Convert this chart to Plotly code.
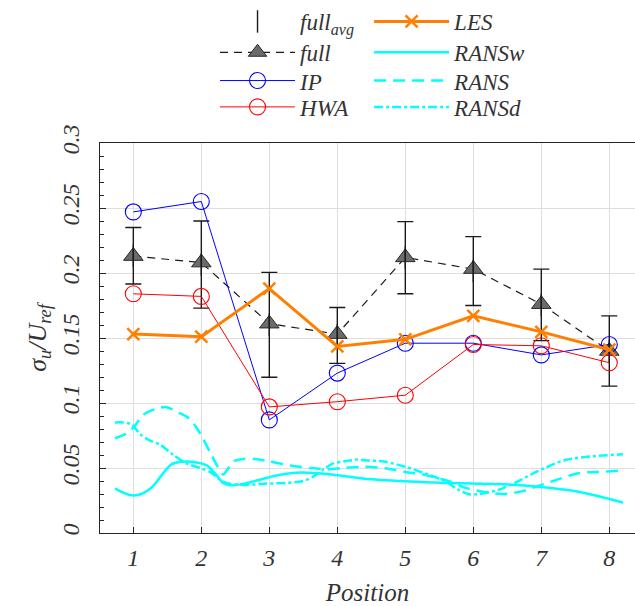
import plotly.graph_objects as go

positions = [1, 2, 3, 4, 5, 6, 7, 8]
ip = [0.247, 0.255, 0.087, 0.123, 0.146, 0.146, 0.137, 0.145]
hwa = [0.184, 0.182, 0.097, 0.101, 0.106, 0.145, 0.144, 0.131]
full = [0.213, 0.208, 0.161, 0.153, 0.212, 0.203, 0.176, 0.140]
full_avg_hi = [0.235, 0.240, 0.2005, 0.1735, 0.2395, 0.228, 0.203, 0.167]
full_avg_lo = [0.1915, 0.173, 0.1198, 0.1305, 0.184, 0.175, 0.148, 0.113]
les = [0.153, 0.151, 0.188, 0.1435, 0.149, 0.167, 0.1547, 0.141]

ransw_x = [0.73, 0.85, 0.975, 1.12, 1.29, 1.44, 1.56, 1.71, 1.93, 2.08, 2.20, 2.32, 2.42, 2.62,
           2.86, 3.16, 3.45, 3.70, 4.04, 4.40, 5.0, 5.63, 6.0, 6.51, 7.0, 7.54, 7.83, 8.2]
ransw_y = [0.0343, 0.031, 0.029, 0.030, 0.036, 0.046, 0.0528, 0.0548, 0.0543, 0.052, 0.046, 0.0385,
           0.0368, 0.0378, 0.041, 0.0448, 0.0465, 0.046, 0.0443, 0.0418, 0.0398, 0.0385, 0.038,
           0.0373, 0.0353, 0.0318, 0.0285, 0.0235]

rans_x = [0.73, 0.88, 1.0, 1.15, 1.32, 1.49, 1.69, 1.81, 1.93, 2.03, 2.13, 2.23, 2.32, 2.40, 2.47,
          2.62, 2.79, 3.0, 3.3, 3.6, 3.85, 4.1, 4.4, 4.7, 5.0, 5.28, 5.63, 5.87, 6.12, 6.41, 6.71,
          7.0, 7.29, 7.54, 7.83, 8.2]
rans_y = [0.0728, 0.076, 0.081, 0.091, 0.0953, 0.0968, 0.092, 0.0885, 0.081, 0.072, 0.062, 0.052,
          0.045, 0.050, 0.055, 0.057, 0.057, 0.055, 0.052, 0.050, 0.049, 0.050, 0.051, 0.0498,
          0.047, 0.0448, 0.040, 0.035, 0.032, 0.030, 0.032, 0.037, 0.042, 0.046, 0.047, 0.048]

ransd_x = [0.73, 0.853, 0.975, 1.10, 1.245, 1.39, 1.59, 1.78, 1.98, 2.13, 2.25, 2.37, 2.62, 2.96,
           3.25, 3.5, 3.65, 3.8, 3.94, 4.1, 4.3, 4.4, 4.7, 5.0, 5.28, 5.58, 5.77, 5.92, 6.07,
           6.36, 6.61, 6.85, 7.05, 7.34, 7.74, 8.2]
ransd_y = [0.085, 0.085, 0.0835, 0.076, 0.071, 0.068, 0.060, 0.0535, 0.050, 0.047, 0.042, 0.0385,
           0.037, 0.038, 0.0385, 0.040, 0.0435, 0.049, 0.0535, 0.055, 0.0565, 0.056, 0.0548,
           0.051, 0.046, 0.040, 0.0335, 0.030, 0.0298, 0.033, 0.0385, 0.045, 0.050, 0.056,
           0.059, 0.0605]

x_ticks = [1, 2, 3, 4, 5, 6, 7, 8]
y_ticks = [0, 0.05, 0.1, 0.15, 0.2, 0.25, 0.3]
y_ticklabels = ["0", "0.05", "0.1", "0.15", "0.2", "0.25", "0.3"]

FONT = "Liberation Serif"
TXT = "#333333"
CYAN = "#00FFFF"

avg_mid = [(h + l) / 2 for h, l in zip(full_avg_hi, full_avg_lo)]
avg_err = [(h - l) / 2 for h, l in zip(full_avg_hi, full_avg_lo)]

fig = go.Figure()

fig.add_trace(go.Scatter(x=ransw_x, y=ransw_y, name="RANSw", mode="lines", legend="legend4",
                         line=dict(color=CYAN, width=2.5, shape="spline", smoothing=0.8)))
fig.add_trace(go.Scatter(x=rans_x, y=rans_y, name="RANS", mode="lines", legend="legend6",
                         line=dict(color=CYAN, width=2.5, dash="12px,7px", shape="spline", smoothing=0.8)))
fig.add_trace(go.Scatter(x=ransd_x, y=ransd_y, name="RANSd", mode="lines", legend="legend8",
                         line=dict(color=CYAN, width=2.5, dash="9px,3px,3px,3px", shape="spline", smoothing=0.8)))
fig.add_trace(go.Scatter(x=positions, y=full, name="full", mode="lines+markers", legend="legend3",
                         line=dict(color="#1a1a1a", width=1.2, dash="8px,6px"),
                         marker=dict(symbol="triangle-up", size=17, color="#6b6b6b",
                                     line=dict(color="#2a2a2a", width=1))))
fig.add_trace(go.Scatter(x=positions, y=avg_mid, name="full<sub>avg</sub>", mode="markers", legend="legend",
                         marker=dict(symbol="line-ns-open", size=16, color="#1a1a1a",
                                     line=dict(color="#1a1a1a", width=1.4)),
                         error_y=dict(type="data", array=avg_err, visible=True,
                                      color="#1a1a1a", thickness=1.4, width=8)))
fig.add_trace(go.Scatter(x=positions, y=ip, name="IP", mode="lines+markers", legend="legend5",
                         line=dict(color="#0000FF", width=1),
                         marker=dict(symbol="circle-open", size=16, color="#0000FF",
                                     line=dict(color="#0000FF", width=1.1))))
fig.add_trace(go.Scatter(x=positions, y=hwa, name="HWA", mode="lines+markers", legend="legend7",
                         line=dict(color="#FF0000", width=1),
                         marker=dict(symbol="circle-open", size=16, color="#FF0000",
                                     line=dict(color="#FF0000", width=1.1))))
fig.add_trace(go.Scatter(x=positions, y=les, name="LES", mode="lines+markers", legend="legend2",
                         line=dict(color="#FF8000", width=3),
                         marker=dict(symbol="x-thin-open", size=12, color="#FF8000",
                                     line=dict(color="#FF8000", width=2.5))))

legend_font = dict(family=FONT, size=23, color=TXT, style="italic")
col_x = [0.215, 0.503]
row_y = [1.3125, 1.2325, 1.16, 1.0925]
legend_layouts = {}
names = ["legend", "legend2", "legend3", "legend4", "legend5", "legend6", "legend7", "legend8"]
for i, nm in enumerate(names):
    legend_layouts[nm] = dict(orientation="v", x=col_x[i % 2], y=row_y[i // 2],
                              xanchor="left", yanchor="middle", itemwidth=75,
                              bgcolor="rgba(0,0,0,0)", font=legend_font, tracegroupgap=0)

axis_common = dict(ticks="inside", ticklen=6, tickwidth=1.2, tickcolor="#262626",
                   showline=True, linecolor="#262626", linewidth=1.3,
                   showgrid=True, gridcolor="#dedede", gridwidth=1, zeroline=False,
                   automargin=False,
                   tickfont=dict(family=FONT, size=24, color=TXT, style="italic"))

fig.update_layout(
    width=635, height=606,
    margin=dict(l=100, r=0, t=133, b=73),
    paper_bgcolor="white", plot_bgcolor="white",
    font=dict(family=FONT, size=24, color=TXT, style="italic"),
    showlegend=True,
    hovermode=False,
    xaxis=dict(range=[0.51, 8.378], tickmode="array", tickvals=x_ticks, mirror=True,
               ticklabelstandoff=3,
               title=dict(text="Position", font=dict(family=FONT, size=25, color=TXT, style="italic"),
                          standoff=14),
               **axis_common),
    yaxis=dict(range=[0, 0.3], tickmode="array", tickvals=y_ticks, ticktext=y_ticklabels,
               tickangle=-90, ticklabelstandoff=10, mirror=False,
               minor=dict(dtick=0.01, ticks="inside", ticklen=4, tickcolor="#262626", showgrid=False),
               title=dict(text="σ<sub>u</sub>/U<sub>ref</sub>",
                          font=dict(family=FONT, size=26, color=TXT, style="italic"),
                          standoff=4),
               **axis_common),
    **legend_layouts,
)

fig.write_html("out.html", config={"displayModeBar": False},
               post_script="document.body.style.margin='0';document.body.style.overflow='hidden';")
